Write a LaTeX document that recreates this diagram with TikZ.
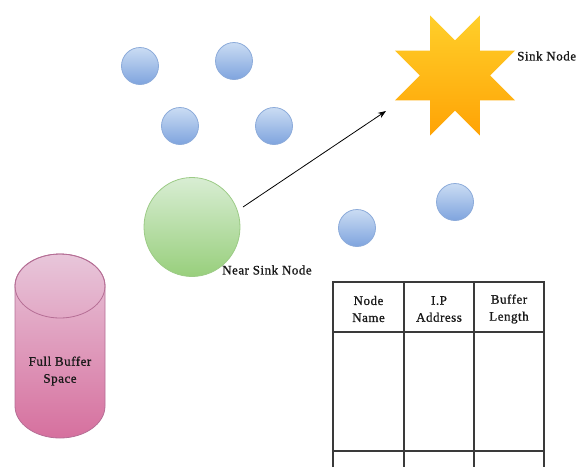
\documentclass[tikz,border=0pt]{standalone}
\usepackage{fontspec}
\setmainfont{Liberation Serif}[LetterSpace=4,FakeBold=1]
\usetikzlibrary{shapes.geometric,arrows.meta}
\definecolor{bluetop}{HTML}{CADCF3}
\definecolor{bluebot}{HTML}{7FA4DE}
\definecolor{blueedge}{HTML}{8CABDA}
\definecolor{greentop}{HTML}{D8EDD3}
\definecolor{greenbot}{HTML}{98CF7C}
\definecolor{greenedge}{HTML}{9CCB86}
\definecolor{startop}{HTML}{FFCF2A}
\definecolor{starbot}{HTML}{FFA305}
\definecolor{pinktop}{HTML}{E8C6DA}
\definecolor{pinkbot}{HTML}{D6709E}
\definecolor{pinkedge}{HTML}{B56E95}
\definecolor{tableline}{HTML}{3A3A3A}
\tikzset{
  bluenode/.style={circle, minimum size=37pt, inner sep=0pt, draw=blueedge, line width=0.8pt, top color=bluetop, bottom color=bluebot},
  greennode/.style={ellipse, minimum width=96pt, minimum height=99pt, inner sep=0pt, draw=greenedge, line width=0.8pt, top color=greentop, bottom color=greenbot},
  sinkstar/.style={star, star points=8, star point ratio=1.85, minimum size=130pt, inner sep=0pt, shape border rotate=22.5, top color=startop, bottom color=starbot, draw=none},
  lbl/.style={font=\fontsize{13}{17}\selectfont, inner sep=0pt, align=center, text=black!90},
  tline/.style={draw=tableline, line width=1.1pt},
}
\begin{document}
\begin{tikzpicture}[x=1pt, y=-1pt]
\useasboundingbox (0,0) rectangle (576,467);
% sensor nodes
\node[bluenode] (b1) at (140,66) {};
\node[bluenode] (b2) at (234,61) {};
\node[bluenode] (b3) at (180,126) {};
\node[bluenode] (b4) at (274,126) {};
\node[bluenode] (b5) at (357,228) {};
\node[bluenode] (b6) at (455,202) {};
% near sink node
\node[greennode] (near) at (192,227) {};
\node[lbl, anchor=west] (nearlbl) at (222,270) {Near Sink Node};
% sink
\node[sinkstar] (sink) at (455,75.5) {};
\node[lbl, anchor=west] (sinklbl) at (517,56) {Sink Node};
% arrow
\coordinate (arrs) at (243,207);
\coordinate (arre) at (386,111);
\draw[line width=0.8pt, -{Stealth[length=8pt,width=6pt]}] (arrs) -- (arre);
% cylinder
\shade[top color=pinktop, bottom color=pinkbot, draw=pinkedge, line width=0.8pt]
  (15,286) -- (15,406) arc[start angle=180, end angle=0, x radius=45, y radius=32]
  -- (105,286) arc[start angle=0, end angle=-180, x radius=45, y radius=32] -- cycle;
\draw[pinkedge, line width=0.8pt] (60,286) ellipse [x radius=45, y radius=32];
\node[lbl] (buf) at (60,371) {Full Buffer\\Space};
% table
\draw[tline] (333,467) -- (333,282) -- (544,282) -- (544,467);
\draw[tline] (404,282) -- (404,467);
\draw[tline] (474,282) -- (474,467);
\draw[tline] (333,332) -- (544,332);
\draw[tline] (333,451) -- (544,451);
\node[lbl] (h1) at (368.5,309) {Node\\Name};
\node[lbl] (h2) at (439,309) {I.P\\Address};
\node[lbl] (h3) at (509,309) {Buffer\\Length};
\end{tikzpicture}
\end{document}
